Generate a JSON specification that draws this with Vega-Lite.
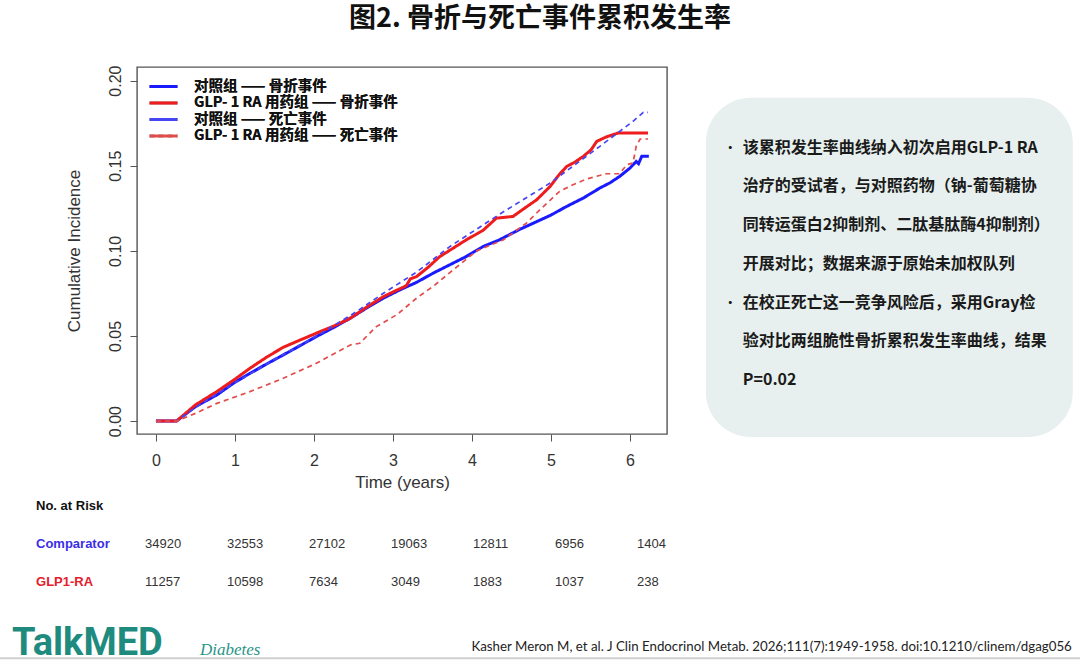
{
  "$schema": "https://vega.github.io/schema/vega-lite/v6.json",
  "description": "Cumulative incidence of fracture and death, GLP-1 RA vs comparator",
  "width": 530,
  "height": 367,
  "autosize": {"type": "none"},
  "padding": {"left": 137, "top": 67, "right": 413, "bottom": 226},
  "background": "white",
  "title": {
    "text": "图2. 骨折与死亡事件累积发生率",
    "font": "Noto Sans CJK SC",
    "fontSize": 27,
    "fontWeight": "bold",
    "color": "#111",
    "anchor": "middle",
    "frame": "group",
    "dx": 138,
    "offset": 32
  },
  "config": {
    "view": {"stroke": "#555", "strokeWidth": 1.4},
    "axis": {
      "labelFont": "Liberation Sans",
      "titleFont": "Liberation Sans",
      "labelFontSize": 16,
      "titleFontSize": 17,
      "titleFontWeight": "normal",
      "labelColor": "#333",
      "titleColor": "#333",
      "tickColor": "#555",
      "tickSize": 7,
      "domain": false,
      "grid": false
    },
    "legend": {
      "orient": "none",
      "legendX": 18,
      "legendY": 11,
      "title": null,
      "symbolType": "M-2,0L2,0",
      "symbolSize": 196,
      "symbolStrokeWidth": 3,
      "labelFont": "Noto Sans CJK SC",
      "labelFontSize": 14.5,
      "labelFontWeight": "bold",
      "labelColor": "#111",
      "labelOffset": 22,
      "labelLimit": 400,
      "rowPadding": 1.5,
      "padding": 0
    }
  },
  "datasets": {
    "fracture": [
      {"series": "对照组 —— 骨折事件", "t": 0, "v": 0},
      {"series": "对照组 —— 骨折事件", "t": 0.26, "v": 0},
      {"series": "对照组 —— 骨折事件", "t": 0.5, "v": 0.0085},
      {"series": "对照组 —— 骨折事件", "t": 0.77, "v": 0.0153},
      {"series": "对照组 —— 骨折事件", "t": 1.0, "v": 0.0228},
      {"series": "对照组 —— 骨折事件", "t": 1.19, "v": 0.028},
      {"series": "对照组 —— 骨折事件", "t": 1.4, "v": 0.0335},
      {"series": "对照组 —— 骨折事件", "t": 1.61, "v": 0.0388},
      {"series": "对照组 —— 骨折事件", "t": 1.82, "v": 0.0442},
      {"series": "对照组 —— 骨折事件", "t": 2.03, "v": 0.0496},
      {"series": "对照组 —— 骨折事件", "t": 2.25, "v": 0.055},
      {"series": "对照组 —— 骨折事件", "t": 2.46, "v": 0.0604},
      {"series": "对照组 —— 骨折事件", "t": 2.67, "v": 0.0665},
      {"series": "对照组 —— 骨折事件", "t": 2.88, "v": 0.0722},
      {"series": "对照组 —— 骨折事件", "t": 3.09, "v": 0.0771},
      {"series": "对照组 —— 骨折事件", "t": 3.3, "v": 0.0815},
      {"series": "对照组 —— 骨折事件", "t": 3.51, "v": 0.0869},
      {"series": "对照组 —— 骨折事件", "t": 3.72, "v": 0.0918},
      {"series": "对照组 —— 骨折事件", "t": 3.93, "v": 0.0967},
      {"series": "对照组 —— 骨折事件", "t": 4.14, "v": 0.1025},
      {"series": "对照组 —— 骨折事件", "t": 4.35, "v": 0.1065},
      {"series": "对照组 —— 骨折事件", "t": 4.6, "v": 0.1125},
      {"series": "对照组 —— 骨折事件", "t": 4.78, "v": 0.1163},
      {"series": "对照组 —— 骨折事件", "t": 5.0, "v": 0.121},
      {"series": "对照组 —— 骨折事件", "t": 5.2, "v": 0.1261},
      {"series": "对照组 —— 骨折事件", "t": 5.41, "v": 0.131},
      {"series": "对照组 —— 骨折事件", "t": 5.62, "v": 0.1369},
      {"series": "对照组 —— 骨折事件", "t": 5.75, "v": 0.14},
      {"series": "对照组 —— 骨折事件", "t": 5.87, "v": 0.1437},
      {"series": "对照组 —— 骨折事件", "t": 5.95, "v": 0.1467},
      {"series": "对照组 —— 骨折事件", "t": 6.0, "v": 0.1486},
      {"series": "对照组 —— 骨折事件", "t": 6.04, "v": 0.1505},
      {"series": "对照组 —— 骨折事件", "t": 6.08, "v": 0.1525},
      {"series": "对照组 —— 骨折事件", "t": 6.11, "v": 0.1512},
      {"series": "对照组 —— 骨折事件", "t": 6.15, "v": 0.1555},
      {"series": "对照组 —— 骨折事件", "t": 6.24, "v": 0.1555},
      {"series": "GLP- 1 RA 用药组 —— 骨折事件", "t": 0, "v": 0},
      {"series": "GLP- 1 RA 用药组 —— 骨折事件", "t": 0.26, "v": 0},
      {"series": "GLP- 1 RA 用药组 —— 骨折事件", "t": 0.5, "v": 0.0095},
      {"series": "GLP- 1 RA 用药组 —— 骨折事件", "t": 0.77, "v": 0.0173},
      {"series": "GLP- 1 RA 用药组 —— 骨折事件", "t": 1.0, "v": 0.0246},
      {"series": "GLP- 1 RA 用药组 —— 骨折事件", "t": 1.19, "v": 0.031},
      {"series": "GLP- 1 RA 用药组 —— 骨折事件", "t": 1.4, "v": 0.0375},
      {"series": "GLP- 1 RA 用药组 —— 骨折事件", "t": 1.61, "v": 0.0433},
      {"series": "GLP- 1 RA 用药组 —— 骨折事件", "t": 1.82, "v": 0.0475},
      {"series": "GLP- 1 RA 用药组 —— 骨折事件", "t": 2.03, "v": 0.0516},
      {"series": "GLP- 1 RA 用药组 —— 骨折事件", "t": 2.25, "v": 0.0558},
      {"series": "GLP- 1 RA 用药组 —— 骨折事件", "t": 2.46, "v": 0.0604},
      {"series": "GLP- 1 RA 用药组 —— 骨折事件", "t": 2.67, "v": 0.067},
      {"series": "GLP- 1 RA 用药组 —— 骨折事件", "t": 2.88, "v": 0.0731},
      {"series": "GLP- 1 RA 用药组 —— 骨折事件", "t": 3.0, "v": 0.0758},
      {"series": "GLP- 1 RA 用药组 —— 骨折事件", "t": 3.17, "v": 0.0795},
      {"series": "GLP- 1 RA 用药组 —— 骨折事件", "t": 3.22, "v": 0.0835},
      {"series": "GLP- 1 RA 用药组 —— 骨折事件", "t": 3.3, "v": 0.0849},
      {"series": "GLP- 1 RA 用药组 —— 骨折事件", "t": 3.45, "v": 0.0905},
      {"series": "GLP- 1 RA 用药组 —— 骨折事件", "t": 3.59, "v": 0.0965},
      {"series": "GLP- 1 RA 用药组 —— 骨折事件", "t": 3.76, "v": 0.1015},
      {"series": "GLP- 1 RA 用药组 —— 骨折事件", "t": 3.93, "v": 0.1065},
      {"series": "GLP- 1 RA 用药组 —— 骨折事件", "t": 4.14, "v": 0.112},
      {"series": "GLP- 1 RA 用药组 —— 骨折事件", "t": 4.31, "v": 0.1192},
      {"series": "GLP- 1 RA 用药组 —— 骨折事件", "t": 4.52, "v": 0.1202},
      {"series": "GLP- 1 RA 用药组 —— 骨折事件", "t": 4.65, "v": 0.1245},
      {"series": "GLP- 1 RA 用药组 —— 骨折事件", "t": 4.82, "v": 0.13},
      {"series": "GLP- 1 RA 用药组 —— 骨折事件", "t": 4.99, "v": 0.1378},
      {"series": "GLP- 1 RA 用药组 —— 骨折事件", "t": 5.1, "v": 0.1445},
      {"series": "GLP- 1 RA 用药组 —— 骨折事件", "t": 5.2, "v": 0.1496},
      {"series": "GLP- 1 RA 用药组 —— 骨折事件", "t": 5.3, "v": 0.152},
      {"series": "GLP- 1 RA 用药组 —— 骨折事件", "t": 5.41, "v": 0.1555},
      {"series": "GLP- 1 RA 用药组 —— 骨折事件", "t": 5.51, "v": 0.1594},
      {"series": "GLP- 1 RA 用药组 —— 骨折事件", "t": 5.58, "v": 0.1643},
      {"series": "GLP- 1 RA 用药组 —— 骨折事件", "t": 5.7, "v": 0.1669},
      {"series": "GLP- 1 RA 用药组 —— 骨折事件", "t": 5.85, "v": 0.1692},
      {"series": "GLP- 1 RA 用药组 —— 骨折事件", "t": 6.23, "v": 0.1692}
    ],
    "death": [
      {"series": "对照组 —— 死亡事件", "t": 0, "v": 0},
      {"series": "对照组 —— 死亡事件", "t": 0.26, "v": 0},
      {"series": "对照组 —— 死亡事件", "t": 0.5, "v": 0.008},
      {"series": "对照组 —— 死亡事件", "t": 1.0, "v": 0.0225},
      {"series": "对照组 —— 死亡事件", "t": 1.5, "v": 0.0362},
      {"series": "对照组 —— 死亡事件", "t": 2.03, "v": 0.0498},
      {"series": "对照组 —— 死亡事件", "t": 2.54, "v": 0.0643},
      {"series": "对照组 —— 死亡事件", "t": 2.88, "v": 0.0751},
      {"series": "对照组 —— 死亡事件", "t": 3.3, "v": 0.0875},
      {"series": "对照组 —— 死亡事件", "t": 3.72, "v": 0.1025},
      {"series": "对照组 —— 死亡事件", "t": 4.35, "v": 0.1215},
      {"series": "对照组 —— 死亡事件", "t": 4.99, "v": 0.1398},
      {"series": "对照组 —— 死亡事件", "t": 5.62, "v": 0.1614},
      {"series": "对照组 —— 死亡事件", "t": 6.04, "v": 0.1761},
      {"series": "对照组 —— 死亡事件", "t": 6.17, "v": 0.1814},
      {"series": "对照组 —— 死亡事件", "t": 6.23, "v": 0.1814},
      {"series": "GLP- 1 RA 用药组 —— 死亡事件", "t": 0, "v": 0},
      {"series": "GLP- 1 RA 用药组 —— 死亡事件", "t": 0.26, "v": 0},
      {"series": "GLP- 1 RA 用药组 —— 死亡事件", "t": 0.5, "v": 0.0045},
      {"series": "GLP- 1 RA 用药组 —— 死亡事件", "t": 0.77, "v": 0.0104},
      {"series": "GLP- 1 RA 用药组 —— 死亡事件", "t": 1.19, "v": 0.0173},
      {"series": "GLP- 1 RA 用药组 —— 死亡事件", "t": 1.61, "v": 0.0251},
      {"series": "GLP- 1 RA 用药组 —— 死亡事件", "t": 2.03, "v": 0.0339},
      {"series": "GLP- 1 RA 用药组 —— 死亡事件", "t": 2.46, "v": 0.0447},
      {"series": "GLP- 1 RA 用药组 —— 死亡事件", "t": 2.58, "v": 0.0457},
      {"series": "GLP- 1 RA 用药组 —— 死亡事件", "t": 2.79, "v": 0.0555},
      {"series": "GLP- 1 RA 用药组 —— 死亡事件", "t": 3.05, "v": 0.0625},
      {"series": "GLP- 1 RA 用药组 —— 死亡事件", "t": 3.3, "v": 0.0722},
      {"series": "GLP- 1 RA 用药组 —— 死亡事件", "t": 3.52, "v": 0.0795},
      {"series": "GLP- 1 RA 用药组 —— 死亡事件", "t": 3.72, "v": 0.0872},
      {"series": "GLP- 1 RA 用药组 —— 死亡事件", "t": 4.06, "v": 0.1},
      {"series": "GLP- 1 RA 用药组 —— 死亡事件", "t": 4.4, "v": 0.1065},
      {"series": "GLP- 1 RA 用药组 —— 死亡事件", "t": 4.69, "v": 0.1163},
      {"series": "GLP- 1 RA 用药组 —— 死亡事件", "t": 4.86, "v": 0.1241},
      {"series": "GLP- 1 RA 用药组 —— 死亡事件", "t": 5.11, "v": 0.1349},
      {"series": "GLP- 1 RA 用药组 —— 死亡事件", "t": 5.28, "v": 0.1388},
      {"series": "GLP- 1 RA 用药组 —— 死亡事件", "t": 5.45, "v": 0.1422},
      {"series": "GLP- 1 RA 用药组 —— 死亡事件", "t": 5.7, "v": 0.1453},
      {"series": "GLP- 1 RA 用药组 —— 死亡事件", "t": 5.87, "v": 0.1453},
      {"series": "GLP- 1 RA 用药组 —— 死亡事件", "t": 5.96, "v": 0.1506},
      {"series": "GLP- 1 RA 用药组 —— 死亡事件", "t": 6.04, "v": 0.1516},
      {"series": "GLP- 1 RA 用药组 —— 死亡事件", "t": 6.08, "v": 0.1614},
      {"series": "GLP- 1 RA 用药组 —— 死亡事件", "t": 6.13, "v": 0.1657},
      {"series": "GLP- 1 RA 用药组 —— 死亡事件", "t": 6.23, "v": 0.1657}
    ],
    "risk": [
      {"group": "Comparator", "time": 0, "n": 34920},
      {"group": "Comparator", "time": 1, "n": 32553},
      {"group": "Comparator", "time": 2, "n": 27102},
      {"group": "Comparator", "time": 3, "n": 19063},
      {"group": "Comparator", "time": 4, "n": 12811},
      {"group": "Comparator", "time": 5, "n": 6956},
      {"group": "Comparator", "time": 6, "n": 1404},
      {"group": "GLP1-RA", "time": 0, "n": 11257},
      {"group": "GLP1-RA", "time": 1, "n": 10598},
      {"group": "GLP1-RA", "time": 2, "n": 7634},
      {"group": "GLP1-RA", "time": 3, "n": 3049},
      {"group": "GLP1-RA", "time": 4, "n": 1883},
      {"group": "GLP1-RA", "time": 5, "n": 1037},
      {"group": "GLP1-RA", "time": 6, "n": 238}
    ],
    "riskRows": [
      {"group": "No. at Risk"},
      {"group": "Comparator"},
      {"group": "GLP1-RA"}
    ]
  },
  "layer": [
    {
      "layer": [
        {
          "data": {"name": "fracture"},
          "mark": {"type": "line", "strokeWidth": 3},
          "encoding": {
            "x": {
              "field": "t",
              "type": "quantitative",
              "scale": {"domain": [-0.24, 6.47], "nice": false, "zero": false},
              "axis": {"values": [0, 1, 2, 3, 4, 5, 6], "format": "d", "title": "Time (years)", "labelPadding": 11, "titlePadding": 6, "labelFlush": false}
            },
            "y": {
              "field": "v",
              "type": "quantitative",
              "scale": {"domain": [-0.0076, 0.208], "nice": false, "zero": false},
              "axis": {"values": [0, 0.05, 0.1, 0.15, 0.2], "format": ".2f", "title": "Cumulative Incidence", "labelAngle": -90, "labelAlign": "center", "labelBaseline": "alphabetic", "labelPadding": 10, "titlePadding": 24, "labelFlush": false}
            },
            "color": {
              "field": "series",
              "type": "nominal",
              "scale": {
                "domain": ["对照组 —— 骨折事件", "GLP- 1 RA 用药组 —— 骨折事件", "对照组 —— 死亡事件", "GLP- 1 RA 用药组 —— 死亡事件"],
                "range": ["#1a1aff", "#ee1c1c", "#4646f5", "#e34b4b"]
              }
            },
            "strokeDash": {
              "field": "series",
              "type": "nominal",
              "scale": {
                "domain": ["对照组 —— 骨折事件", "GLP- 1 RA 用药组 —— 骨折事件", "对照组 —— 死亡事件", "GLP- 1 RA 用药组 —— 死亡事件"],
                "range": [[1, 0], [1, 0], [5, 4], [5, 4]]
              }
            }
          }
        },
        {
          "data": {"name": "death"},
          "mark": {"type": "line", "strokeWidth": 1.7},
          "encoding": {
            "x": {"field": "t", "type": "quantitative", "scale": {"domain": [-0.24, 6.47], "nice": false, "zero": false}},
            "y": {"field": "v", "type": "quantitative", "scale": {"domain": [-0.0076, 0.208], "nice": false, "zero": false}},
            "color": {"field": "series", "type": "nominal"},
            "strokeDash": {"field": "series", "type": "nominal"}
          }
        },
        {
          "data": {"values": [{}]},
          "mark": {"type": "rect", "fill": "#e7f0ee", "cornerRadius": 45},
          "encoding": {
            "x": {"datum": 6.962},
            "x2": {"datum": 11.608},
            "y": {"datum": 0.19},
            "y2": {"datum": -0.0094}
          }
        },
        {
          "data": {"values": [{}]},
          "mark": {
            "type": "text",
            "align": "left",
            "baseline": "alphabetic",
            "font": "Noto Sans CJK SC",
            "fontSize": 16,
            "fontWeight": "bold",
            "color": "#1a1a1a",
            "lineHeight": 38.7,
            "text": [
              "该累积发生率曲线纳入初次启用GLP-1 RA",
              "治疗的受试者，与对照药物（钠-葡萄糖协",
              "同转运蛋白2抑制剂、二肽基肽酶4抑制剂）",
              "开展对比；数据来源于原始未加权队列",
              "\u00a0\u00a0在校正死亡这一竞争风险后，采用Gray检",
              "验对比两组脆性骨折累积发生率曲线，结果",
              "P=0.02"
            ]
          },
          "encoding": {
            "x": {"datum": 7.43},
            "y": {"datum": 0.1576}
          }
        },
        {
          "data": {"values": [{}]},
          "mark": {
            "type": "text",
            "align": "center",
            "baseline": "alphabetic",
            "font": "Noto Sans CJK SC",
            "fontSize": 12,
            "fontWeight": "bold",
            "color": "#1a1a1a",
            "text": "•"
          },
          "encoding": {
            "x": {"datum": 7.27},
            "y": {"datum": 0.1576}
          }
        },
        {
          "data": {"values": [{}]},
          "mark": {
            "type": "text",
            "align": "center",
            "baseline": "alphabetic",
            "font": "Noto Sans CJK SC",
            "fontSize": 12,
            "fontWeight": "bold",
            "color": "#1a1a1a",
            "text": "•"
          },
          "encoding": {
            "x": {"datum": 7.27},
            "y": {"datum": 0.0665}
          }
        },
        {
          "data": {"values": [{}]},
          "mark": {
            "type": "text",
            "align": "left",
            "baseline": "alphabetic",
            "font": "Roboto",
            "fontSize": 38,
            "fontWeight": "bold",
            "color": "#1f8b7f",
            "text": "TalkMED"
          },
          "encoding": {
            "x": {"datum": -1.823},
            "y": {"datum": -0.1376}
          }
        },
        {
          "data": {"values": [{}]},
          "mark": {
            "type": "text",
            "align": "left",
            "baseline": "alphabetic",
            "font": "Liberation Serif",
            "fontSize": 17,
            "fontStyle": "italic",
            "color": "#2a9587",
            "text": "Diabetes"
          },
          "encoding": {
            "x": {"datum": 0.557},
            "y": {"datum": -0.1376}
          }
        },
        {
          "data": {"values": [{}]},
          "mark": {
            "type": "text",
            "align": "right",
            "baseline": "alphabetic",
            "font": "Lato",
            "fontSize": 13.3,
            "color": "#222",
            "text": "Kasher Meron M, et al. J Clin Endocrinol Metab. 2026;111(7):1949-1958. doi:10.1210/clinem/dgag056"
          },
          "encoding": {
            "x": {"datum": 11.595},
            "y": {"datum": -0.1353}
          }
        },
        {
          "data": {"values": [{}]},
          "mark": {"type": "rule", "color": "#d0d0d0", "strokeWidth": 2},
          "encoding": {
            "x": {"datum": -1.98},
            "x2": {"datum": 11.7},
            "y": {"datum": -0.1394}
          }
        }
      ]
    },
    {
      "layer": [
        {
          "data": {"name": "risk"},
          "mark": {"type": "text", "align": "left", "baseline": "middle", "font": "Liberation Sans", "fontSize": 13, "color": "#333"},
          "encoding": {
            "x": {"field": "time", "type": "quantitative", "scale": {"domain": [0, 6], "range": [8, 500], "nice": false, "zero": false}, "axis": null},
            "y": {"field": "group", "type": "nominal", "scale": {"type": "point", "domain": ["No. at Risk", "Comparator", "GLP1-RA"], "range": [439, 515], "padding": 0}, "axis": null},
            "text": {"field": "n", "type": "quantitative", "format": "d"}
          }
        },
        {
          "data": {"name": "riskRows"},
          "mark": {"type": "text", "align": "left", "baseline": "middle", "font": "Liberation Sans", "fontSize": 13, "fontWeight": "bold"},
          "encoding": {
            "x": {"datum": -1.329},
            "y": {"field": "group", "type": "nominal"},
            "text": {"field": "group", "type": "nominal"},
            "color": {
              "field": "group",
              "type": "nominal",
              "scale": {"domain": ["No. at Risk", "Comparator", "GLP1-RA"], "range": ["#111111", "#3a2ee8", "#e4202a"]},
              "legend": null
            }
          }
        }
      ]
    }
  ],
  "resolve": {
    "scale": {"x": "independent", "y": "independent", "color": "independent"},
    "axis": {"x": "independent", "y": "independent"},
    "legend": {"color": "independent"}
  }
}
